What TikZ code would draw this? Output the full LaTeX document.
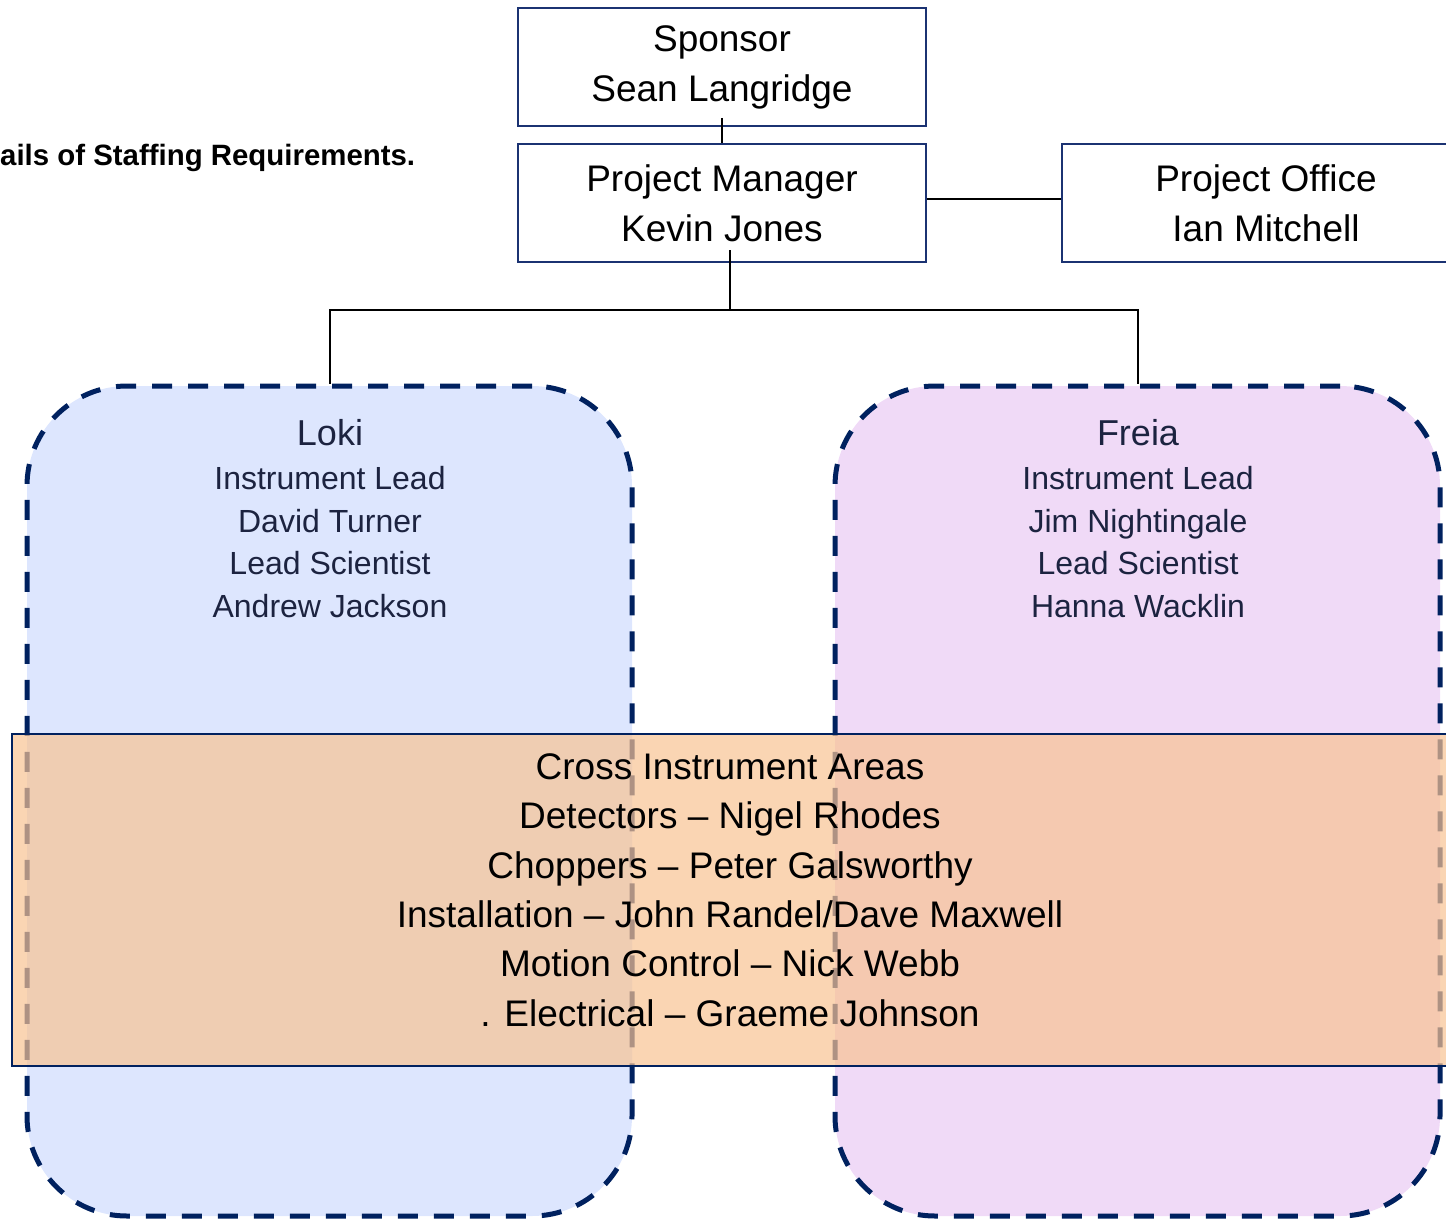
\documentclass[tikz,border=0pt]{standalone}
\usepackage{fontspec}
\setmainfont{Liberation Sans}
\definecolor{boxblue}{HTML}{1B3272}
\definecolor{navy}{HTML}{00215F}
\definecolor{lokifill}{HTML}{DDE6FE}
\definecolor{freiafill}{HTML}{F0DAF7}
\definecolor{bandfill}{HTML}{F8C393}
\definecolor{insttext}{HTML}{1C2340}
\tikzset{
  orgbox/.style={draw=boxblue, line width=1.8pt, minimum width=408pt, minimum height=118pt,
    inner sep=0pt, align=center, font=\fontsize{37}{50}\selectfont},
  instbox/.style={draw=navy, line width=5pt, dash pattern=on 20pt off 16pt,
    rounded corners=100pt, minimum width=605pt, minimum height=830pt, inner sep=0pt},
  conn/.style={black, line width=2pt},
  insthead/.style={anchor=base, text=insttext, font=\fontsize{36}{44}\selectfont, inner sep=0pt},
  instline/.style={anchor=base, text=insttext, font=\fontsize{32}{43}\selectfont, inner sep=0pt},
  bandbox/.style={draw=navy, line width=2pt, fill=bandfill, fill opacity=0.7, draw opacity=1,
    minimum width=1458pt, minimum height=332pt, inner sep=0pt},
}
\begin{document}
\begin{tikzpicture}[x=1pt,y=-1pt]
\useasboundingbox (0,0) rectangle (1446,1219);
\clip (0,0) rectangle (1446,1219);

% title fragment
\node[anchor=base west, inner sep=0pt, font=\fontsize{29.4}{34}\selectfont\bfseries] (title) at (0,165) {ails of Staffing Requirements.};

% instrument boxes
\node[instbox, fill=lokifill] (loki) at (329.5,801) {};
\node[instbox, fill=freiafill] (freia) at (1137.5,801) {};

% top boxes
\node[orgbox] (sponsor) at (722,67) {Sponsor\\Sean Langridge};
\node[orgbox] (pm) at (722,203) {Project Manager\\Kevin Jones};
\node[orgbox] (po) at (1266,203) {Project Office\\Ian Mitchell};

% connectors
\draw[conn] ([yshift=9pt]sponsor.south) -- (pm.north);
\draw[conn] ([yshift=4pt]pm.east) -- ([yshift=4pt]po.west);
\coordinate (pmstub) at (730,250);
\coordinate (fork) at (730,310);
\draw[conn] (pmstub) -- (fork);
\draw[conn] (loki.north) |- (fork) -| (freia.north);

% Loki texts
\node[insthead] (lokiname) at (330,445) {Loki};
\node[instline] (loki1) at (330,489) {Instrument Lead};
\node[instline] (loki2) at (330,532) {David Turner};
\node[instline] (loki3) at (330,574) {Lead Scientist};
\node[instline] (loki4) at (330,617) {Andrew Jackson};

% Freia texts
\node[insthead] (freianame) at (1138,445) {Freia};
\node[instline] (freia1) at (1138,489) {Instrument Lead};
\node[instline] (freia2) at (1138,532) {Jim Nightingale};
\node[instline] (freia3) at (1138,574) {Lead Scientist};
\node[instline] (freia4) at (1138,617) {Hanna Wacklin};

% cross instrument band
\node[bandbox] (band) at (741,900) {};
\node[align=center, inner sep=0pt, font=\fontsize{37}{49.4}\selectfont] (bandtext) at (730,890)
  {Cross Instrument Areas\\Detectors – Nigel Rhodes\\Choppers – Peter Galsworthy\\Installation – John Randel/Dave Maxwell\\Motion Control – Nick Webb\\. Electrical – Graeme Johnson};
\end{tikzpicture}
\end{document}
